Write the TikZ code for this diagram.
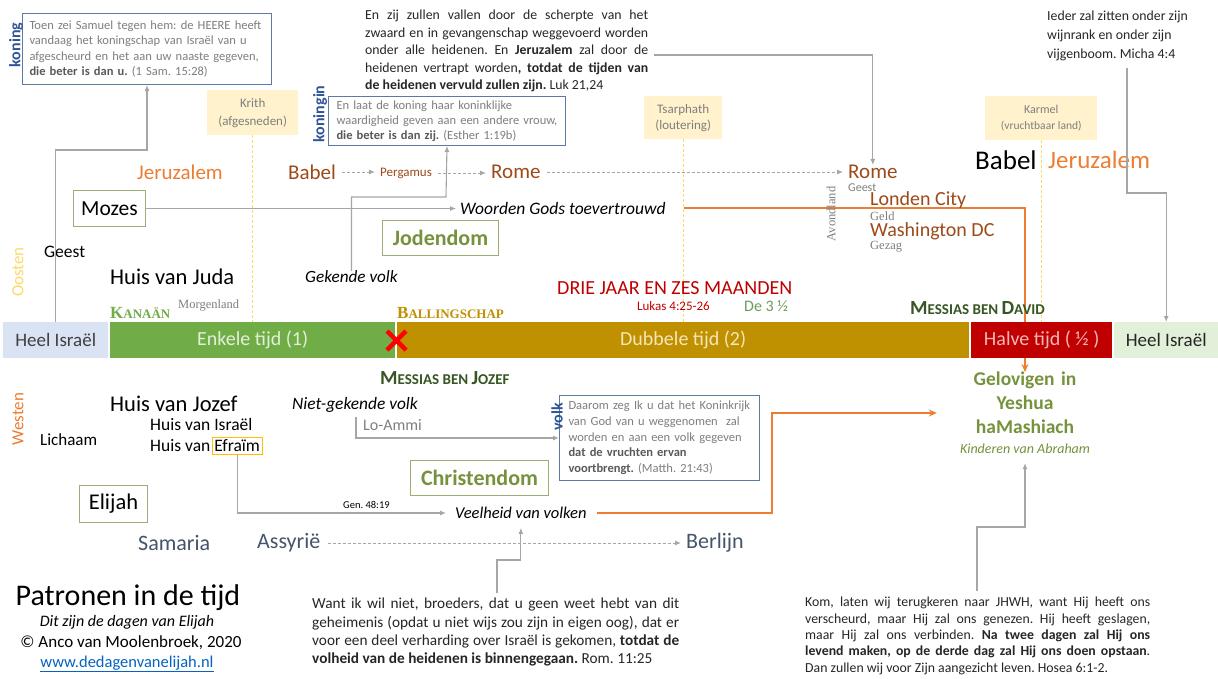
\documentclass[tikz,border=0pt]{standalone}
\usepackage{fontspec}
\setmainfont{Carlito}
\newfontfamily\serifff{Liberation Serif}
\usetikzlibrary{arrows.meta,calc}
\newcommand\fsz[2]{\fontsize{#1}{#2}\selectfont}
\newcommand\jl[2]{\makebox[#1][s]{#2}}
\definecolor{cblueb}{HTML}{5B7BA3}
\definecolor{cqgray}{HTML}{7F7F7F}
\definecolor{cqbold}{HTML}{595959}
\definecolor{cblue}{HTML}{2F5597}
\definecolor{cbeige}{HTML}{FFF2CC}
\definecolor{cyel}{HTML}{FFD966}
\definecolor{corange}{HTML}{ED7D31}
\definecolor{cbrown}{HTML}{9C4A1A}
\definecolor{cgray}{HTML}{A6A6A6}
\definecolor{cgbox}{HTML}{9AAF78}
\definecolor{colive}{HTML}{76923C}
\definecolor{clblue}{HTML}{DAE3F3}
\definecolor{cgreen}{HTML}{70AD47}
\definecolor{cgold}{HTML}{BF9000}
\definecolor{cred}{HTML}{C00000}
\definecolor{clgreen}{HTML}{E2F0D9}
\definecolor{cdkgreen}{HTML}{375623}
\definecolor{cslate}{HTML}{44546A}
\definecolor{clink}{HTML}{0563C1}
\definecolor{ctext}{HTML}{262626}
\definecolor{cdgray}{HTML}{404040}
\definecolor{cdtgreen}{HTML}{6E9B5A}
\definecolor{cefr}{HTML}{FFC000}
\definecolor{cgreentxt}{HTML}{E2F0D9}
\definecolor{cgoldtxt}{HTML}{F5E6B8}
\definecolor{credtxt}{HTML}{F4B6B6}
\pgfdeclarelayer{bg}
\pgfsetlayers{bg,main}
\frenchspacing
\begin{document}
\frenchspacing
\begin{tikzpicture}[x=1pt,y=-1pt,
  lbl/.style={inner sep=0,anchor=west},
  gline/.style={draw=cgray,line width=1.1pt},
  garrow/.style={gline,-{Latex[length=6pt,width=5pt]}},
  darrow/.style={draw=cgray,line width=0.9pt,dash pattern=on 3pt off 2pt,-{Latex[length=6pt,width=5pt]}},
  oarrow/.style={draw=corange,line width=1.8pt,-{Stealth[length=8pt,width=7pt]}},
  ydash/.style={draw=cyel,line width=0.9pt,dash pattern=on 3pt off 2pt},
  quote/.style={draw=cblueb,line width=1pt,fill=white,anchor=north west,align=left,text=cqgray,inner ysep=0},
  beige/.style={fill=cbeige,text=cqgray,align=center,anchor=north west,inner sep=0},
  gbox/.style={draw=cgbox,line width=1pt,anchor=north west,inner sep=0},
  barseg/.style={anchor=north west,inner sep=0,minimum height=36pt},
  vlab/.style={inner sep=0,rotate=90},
]
\useasboundingbox (0,0) rectangle (1218,678);
\begin{pgfonlayer}{bg}
\fill[white] (0,0) rectangle (1218,678);
\end{pgfonlayer}

% ---------- top quotes ----------
\node[quote,text width=235,inner xsep=7,minimum height=71,font=\fsz{12.5}{15.5}] (box1) at (22,13)
 {Toen zei Samuel tegen hem: de HEERE heeft\\vandaag het koningschap van Israël van u\\afgescheurd en het aan uw naaste gegeven,\\{\color{cqbold}\bfseries die beter is dan u.} (1 Sam. 15:28)};
\node[vlab,font=\fsz{16}{18}\bfseries,text=cblue] (koning) at (16,45) {koning};

\node[beige,minimum width=91,minimum height=45,font=\fsz{13}{18}] (krith) at (207,90) {Krith\\(afgesneden)};
\node[quote,text width=221,inner xsep=8,minimum height=49,font=\fsz{12.5}{15}] (box2) at (328,96)
 {En laat de koning haar koninklijke\\waardigheid geven aan een andere vrouw,\\{\color{cqbold}\bfseries die beter is dan zij.} (Esther 1:19b)};
\node[vlab,font=\fsz{16}{18}\bfseries,text=cblue] (koningin) at (320,114) {koningin};

\node[anchor=north west,inner sep=0,align=left,text=ctext,font=\fsz{13.8}{17.5}] (luk) at (365,10)
 {\jl{283pt}{En zij zullen vallen door de scherpte van het}\\
  \jl{283pt}{zwaard en in gevangenschap weggevoerd worden}\\
  \jl{283pt}{onder alle heidenen. En \textbf{Jeruzalem} zal door de}\\
  \jl{283pt}{heidenen vertrapt worden\textbf{, totdat de tijden van}}\\
  \textbf{de heidenen vervuld zullen zijn.} Luk 21,24};

\node[beige,minimum width=78,minimum height=43,font=\fsz{13}{16}] (tsar) at (644,96) {Tsarphath\\(loutering)};
\node[beige,minimum width=112,minimum height=44,font=\fsz{12}{16}] (karmel) at (985,96) {Karmel\\{\fsz{11.5}{16}(vruchtbaar land)}};

\node[anchor=north west,inner sep=0,align=left,text=ctext,font=\fsz{13.8}{19}] (micha) at (1047,11)
 {Ieder zal zitten onder zijn\\wijnrank en onder zijn\\vijgenboom. Micha 4:4};

% ---------- upper region ----------
\node[lbl,font=\fsz{21}{24},text=corange] (jerL) at (137,172) {Jeruzalem};
\node[lbl,font=\fsz{21}{24},text=cbrown] (babelL) at (288,172) {Babel};
\node[lbl,font=\fsz{13}{16},text=cbrown] (perg) at (380,173) {Pergamus};
\node[lbl,font=\fsz{21}{24},text=cbrown] (romeL) at (491,172) {Rome};
\node[lbl,font=\fsz{21}{24},text=cbrown] (romeR) at (848,172) {Rome};
\node[lbl,font=\fsz{12}{14},text=cqgray] (geestR) at (848,188) {Geest};
\node[vlab,font=\serifff\fsz{12.5}{14},text=cqgray] (avond) at (831,214) {Avondland};
\node[lbl,font=\fsz{20}{22},text=cbrown] (londen) at (870,200) {Londen City};
\node[lbl,font=\serifff\fsz{12.5}{14},text=cqgray] (geld) at (870,216) {Geld};
\node[lbl,font=\fsz{20}{22},text=cbrown] (wash) at (870,231) {Washington DC};
\node[lbl,font=\serifff\fsz{12.5}{14},text=cqgray] (gezag) at (870,247) {Gezag};
\node[lbl,font=\fsz{27}{30},text=black] (babelR) at (975,160) {Babel};
\node[lbl,font=\fsz{25}{30},text=corange] (jerR) at (1048,160) {Jeruzalem};

\node[gbox,minimum width=72,minimum height=36,font=\fsz{21.5}{24}] (mozes) at (73,190) {Mozes};
\node[lbl,font=\fsz{17.5}{20}\itshape] (woorden) at (460,208) {Woorden Gods toevertrouwd};
\node[gbox,minimum width=116,minimum height=35,font=\fsz{22}{24}\bfseries,text=colive] (joden) at (382,220) {Jodendom};
\node[lbl,font=\fsz{17.5}{20}] (geestL) at (44,252) {Geest};
\node[vlab,font=\fsz{17}{20},text=cyel] (oosten) at (18,272) {Oosten};
\node[lbl,font=\fsz{22.5}{26}] (juda) at (110,277) {Huis van Juda};
\node[lbl,font=\fsz{17.2}{20}\itshape] (gekende) at (305,277) {Gekende volk};
\node[lbl,text=cgreen,font=\serifff\bfseries] (kanaan) at (110,313) {{\fsz{17}{18}K}{\fsz{13}{18}ANAÄN}};
\node[lbl,font=\serifff\fsz{12.5}{14},text=cqgray] (morgen) at (178,306) {Morgenland};
\node[lbl,text=cgold,font=\serifff\bfseries] (balling) at (397,313) {{\fsz{17}{18}B}{\fsz{13}{18}ALLINGSCHAP}};
\node[lbl,font=\fsz{20}{22},text=cred] (drie) at (557,288) {DRIE JAAR EN ZES MAANDEN};
\node[lbl,font=\fsz{13}{15},text=cred] (lukas) at (637,306) {Lukas 4:25-26};
\node[lbl,font=\fsz{16}{18},text=cdtgreen] (de3) at (744,306) {De 3 ½};
\node[lbl,text=cdkgreen,font=\bfseries] (mdavid) at (910,308) {{\fsz{20}{20}M}{\fsz{15}{20}ESSIAS BEN }{\fsz{20}{20}D}{\fsz{15}{20}AVID}};

% ---------- lower region ----------
\node[lbl,text=cdkgreen,font=\bfseries] (mjozef) at (380,378) {{\fsz{20}{20}M}{\fsz{15}{20}ESSIAS BEN }{\fsz{20}{20}J}{\fsz{15}{20}OZEF}};
\node[vlab,font=\fsz{17}{20},text=corange] (westen) at (18,419) {Westen};
\node[lbl,font=\fsz{17}{20}] (lichaam) at (40,440) {Lichaam};
\node[lbl,font=\fsz{22.5}{26}] (jozef) at (110,404) {Huis van Jozef};
\node[lbl,font=\fsz{17.5}{20}] (hisrael) at (150,424) {Huis van Israël};
\node[lbl,font=\fsz{17.5}{20}] (hefr) at (150,446) {Huis van};
\node[draw=cefr,line width=0.9pt,inner sep=2pt,font=\fsz{17.5}{20},anchor=west] (efraim) at ([xshift=1.5pt]hefr.east) {Efraïm};
\node[lbl,font=\fsz{17.4}{20}\itshape] (niet) at (292,405) {Niet-gekende volk};
\node[lbl,font=\fsz{16}{18},text=cqgray] (loammi) at (363,425) {Lo-Ammi};
\node[quote,text width=182,inner xsep=9,minimum height=85,font=\fsz{12.5}{15.7}] (box3) at (559,395)
 {Daarom zeg Ik u dat het Koninkrijk\\van God van u weggenomen\ \ zal\\worden en aan een volk gegeven\\{\color{cqbold}\bfseries dat de vruchten ervan}\\{\color{cqbold}\bfseries voortbrengt.} (Matth. 21:43)};
\node[vlab,font=\fsz{16}{18}\bfseries,text=cblue] (volk) at (557,417) {volk};
\node[gbox,minimum width=138,minimum height=35,font=\fsz{22}{24}\bfseries,text=colive] (christ) at (410,460) {Christendom};
\node[gbox,minimum width=68,minimum height=37,font=\fsz{22.5}{24}] (elijah) at (79,485) {Elijah};
\node[lbl,font=\fsz{10.5}{12}] (gen) at (343,505) {Gen. 48:19};
\node[lbl,font=\fsz{16.5}{20}\itshape] (veel) at (455,513) {Veelheid van volken};
\node[lbl,font=\fsz{22}{24},text=cslate] (samaria) at (138,543) {Samaria};
\node[lbl,font=\fsz{22}{24},text=cslate] (assyrie) at (257,543) {Assyrië};
\node[lbl,font=\fsz{22}{24},text=cslate] (berlijn) at (686,543) {Berlijn};
\node[anchor=north,inner sep=0,align=center,text width=176,text=colive,font=\fsz{19.5}{24}\bfseries] (gel) at (1025,372) {Gelovigen in\\Yeshua\\haMashiach};
\node[font=\fsz{14}{16}\itshape,text=colive,inner sep=0] (kind) at (1025,449) {Kinderen van Abraham};

% ---------- bottom ----------
\node[font=\fsz{30}{32},inner sep=0] (patronen) at (128,598) {Patronen in de tijd};
\node[font=\fsz{16}{18}\itshape,inner sep=0] (dit) at (127,622) {Dit zijn de dagen van Elijah};
\node[font=\fsz{17}{19},inner sep=0] (anco) at (131,643) {© Anco van Moolenbroek, 2020};
\node[font=\fsz{16.5}{19},inner sep=0,text=clink] (www) at (127,664) {\underline{www.dedagenvanelijah.nl}};

\node[anchor=north west,inner sep=0,align=left,text=ctext,font=\fsz{15.3}{18.3}] (rom) at (312,598)
 {\jl{367pt}{Want ik wil niet, broeders, dat u geen weet hebt van dit}\\
  \jl{367pt}{geheimenis (opdat u niet wijs zou zijn in eigen oog), dat er}\\
  \jl{367pt}{voor een deel verharding over Israël is gekomen, \textbf{totdat de}}\\
  \textbf{volheid van de heidenen is binnengegaan.} Rom. 11:25};
\node[anchor=north west,inner sep=0,align=left,text=ctext,font=\fsz{13.8}{16.4}] (hosea) at (805,597)
 {\jl{345pt}{Kom, laten wij terugkeren naar JHWH, want Hij heeft ons}\\
  \jl{345pt}{verscheurd, maar Hij zal ons genezen. Hij heeft geslagen,}\\
  \jl{345pt}{maar Hij zal ons verbinden. \textbf{Na twee dagen zal Hij ons}}\\
  \jl{345pt}{\textbf{levend maken, op de derde dag zal Hij ons doen opstaan}.}\\
  Dan zullen wij voor Zijn aangezicht leven. Hosea 6:1-2.};

% ---------- background connectors ----------
\begin{pgfonlayer}{bg}
\draw[ydash] (krith.south) -- (krith.south |- 0,322);
\draw[ydash] (tsar.south) -- (tsar.south |- 0,322);
\draw[ydash] (karmel.south) -- (karmel.south |- 0,322);
\draw[oarrow,shorten <=18pt] (woorden.east) -| (gel.north);
\end{pgfonlayer}

% ---------- time bar ----------
\node[barseg,minimum width=105,fill=clblue,text=cdgray,font=\fsz{19}{20}] (heelL) at (3,322) {Heel Israël};
\node[barseg,minimum width=285,fill=cgreen,text=cgreentxt,font=\fsz{20}{20}] (enkele) at (110,322) {Enkele tijd (1)};
\node[barseg,minimum width=572,fill=cgold,text=cgoldtxt,font=\fsz{20}{20}] (dubbele) at (397,322) {Dubbele tijd (2)};
\node[barseg,minimum width=141,fill=cred,text=credtxt,font=\fsz{20}{20}] (halve) at (971,322) {Halve tijd ( ½ )};
\node[barseg,minimum width=104,fill=clgreen,text=ctext,font=\fsz{19}{20}] (heelR) at (1114,322) {Heel Israël};
\draw[red,line width=4.5pt] (387,331) -- (406,350) (406,331) -- (387,350);

% ---------- connectors ----------
\coordinate (k1) at (147,150);
\draw[garrow] (heelL.north) |- (k1) -- (box1.south);
\coordinate (k2) at (446,197);
\draw[garrow] (gekende.north) |- (k2) -- (box2.south);
\draw[garrow,shorten >=4pt] (mozes.east) -- (mozes.east -| woorden.west);
\coordinate (k3) at (876,55);
\draw[garrow,shorten <=6pt] (luk.east |- k3) -| (romeR.north);
\coordinate (k4) at (1127,193);
\draw[garrow,shorten <=7pt] (micha.south -| k4) -- (k4) -| (heelR.north);
\draw[darrow,shorten <=6pt,shorten >=5pt] (babelL.east) -- (babelL.east -| perg.west);
\draw[darrow,shorten <=6pt,shorten >=5pt] (perg.east) -- (perg.east -| romeL.west);
\draw[darrow,shorten <=6pt,shorten >=5pt] (romeL.east) -- (romeL.east -| romeR.west);
\draw[darrow,shorten <=7pt,shorten >=5pt] (assyrie.east) -- (assyrie.east -| berlijn.west);
\coordinate (k6) at (356,417);
\draw[garrow] (k6) |- (box3.west);
\draw[garrow,shorten >=9pt] (efraim.south) |- (veel.west);
\coordinate (k8) at (497,560);
\draw[garrow,shorten <=5pt,shorten >=9pt] (rom.north -| k8) -- (k8) -| (veel.south);
\coordinate (k9) at (977,527);
\draw[garrow,shorten <=6pt,shorten >=9pt] (hosea.north -| k9) -- (k9) -| (kind.south);
\coordinate (k11) at (772,413);
\draw[oarrow,shorten <=10pt] (veel.east) -| (k11) -- (k11 -| gel.west);
\end{tikzpicture}
\end{document}
